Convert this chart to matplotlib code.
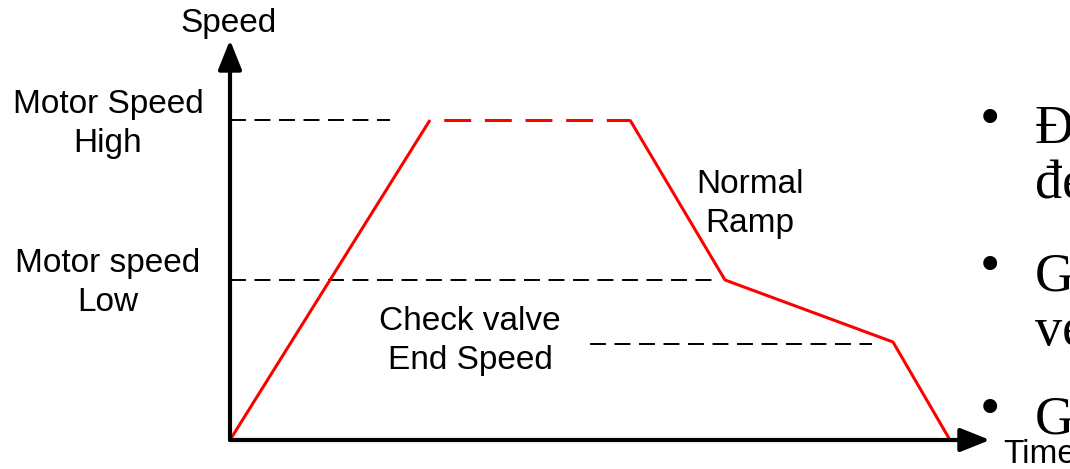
import matplotlib.pyplot as plt

# speed profile (time, speed) in drawing units, origin at the axes corner
ramp_up_t = [0, 200]
ramp_up_v = [0, 320]
high_t = [200, 400]
high_v = [320, 320]
ramp_down_t = [400, 495, 663, 720]
ramp_down_v = [320, 160, 98, 0]

# reference levels (dashed guides)
high_guide_t = [0, 160]
high_guide_v = [320, 320]
low_guide_t = [0, 490]
low_guide_v = [160, 160]
check_guide_t = [360, 642]
check_guide_v = [96, 96]

# clipped slide text on the right
bullet_lines = ["Đ", "đe", "G", "ve", "G"]
bullet_y = [297, 242, 150, 95, 7]
bullet_dot = [True, False, True, False, True]

fig = plt.figure(figsize=(10.7, 4.69), dpi=100)
ax = fig.add_axes([0, 0, 1, 1])
ax.set_xlim(-230, 840)
ax.set_ylim(-29, 440)
ax.axis('off')

# axes with arrows
arrow = dict(arrowstyle='-|>,head_length=0.9,head_width=0.36', lw=3,
             color='black', mutation_scale=20, shrinkA=0, shrinkB=0)
ax.annotate('', xy=(0, 400), xytext=(0, 0), arrowprops=arrow)
ax.annotate('', xy=(760, 0), xytext=(0, 0), arrowprops=arrow)

# dashed guides
for t, v in [(high_guide_t, high_guide_v), (low_guide_t, low_guide_v),
             (check_guide_t, check_guide_v)]:
    ax.plot(t, v, color='black', lw=1.4, linestyle=(0, (8.2, 4.4)))

# red profile
ax.plot(ramp_up_t, ramp_up_v, color='red', lw=2.2, solid_capstyle='butt')
ax.plot(high_t, high_v, color='red', lw=2.2, linestyle=(8.8, (8.8, 4.5)))
ax.plot(ramp_down_t, ramp_down_v, color='red', lw=2.2, solid_capstyle='butt')

font = 'Liberation Sans'
fs = 24
ls = 1.32
ax.text(-1, 417, 'Speed', ha='center', va='center', fontsize=fs, family=font)
ax.text(-122, 316, 'Motor Speed\nHigh', ha='center', va='center', fontsize=fs,
        family=font, linespacing=ls)
ax.text(-122, 157, 'Motor speed\nLow', ha='center', va='center', fontsize=fs,
        family=font, linespacing=ls)
ax.text(520, 236, 'Normal\nRamp', ha='center', va='center', fontsize=fs,
        family=font, linespacing=ls)
ax.text(240, 99, 'Check valve\nEnd Speed', ha='center', va='center', fontsize=fs,
        family=font, linespacing=ls)
ax.text(773, -14, 'Time', ha='left', va='center', fontsize=fs, family=font)

for txt, y, dot in zip(bullet_lines, bullet_y, bullet_dot):
    if dot:
        ax.text(760, y + 8, '•', ha='center', va='baseline', fontsize=42,
                family='Liberation Serif')
    ax.text(805, y, txt, ha='left', va='baseline', fontsize=39,
            family='Liberation Serif')

fig.savefig('out.png', dpi=100)
